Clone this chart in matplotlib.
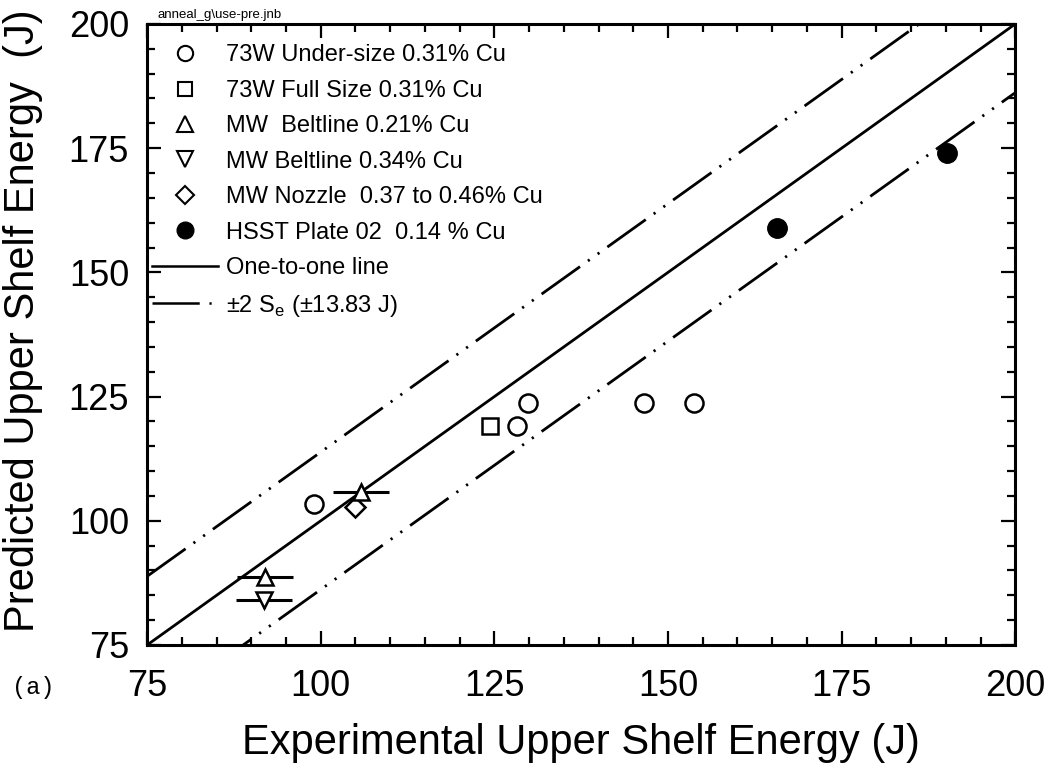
import numpy as np
import matplotlib
matplotlib.use("Agg")
import matplotlib.pyplot as plt
from matplotlib.lines import Line2D
from matplotlib.ticker import MultipleLocator

plt.rcParams['font.family'] = ['Liberation Sans', 'DejaVu Sans']
plt.rcParams['lines.scale_dashes'] = False

# data (J)
under_x = [99.0, 128.3, 129.9, 146.5, 153.8]
under_y = [103.4, 119.0, 123.7, 123.7, 123.7]
full_x = [124.3]
full_y = [119.0]
belt21_x = [92.0, 105.8]
belt21_y = [88.6, 105.7]
belt21_xerr = [4.0, 4.0]
belt21_yerr = [1.5, 1.5]
belt34_x = [91.8]
belt34_y = [84.0]
belt34_xerr = [4.0]
belt34_yerr = [1.5]
nozzle_x = [105.0]
nozzle_y = [102.8]
hsst_x = [165.7, 190.1]
hsst_y = [158.9, 174.0]
se2 = 13.83
lims = [75, 200]

labels = ["73W Under-size 0.31% Cu", "73W Full Size 0.31% Cu",
          "MW  Beltline 0.21% Cu", "MW Beltline 0.34% Cu",
          "MW Nozzle  0.37 to 0.46% Cu", "HSST Plate 02  0.14 % Cu",
          "One-to-one line", "\u00b12 S$_\\mathregular{e}$ (\u00b113.83 J)"]

dashdotdot = (0, (34, 7, 1.6, 7, 1.6, 7))

fig = plt.figure(figsize=(10.51, 7.73), dpi=100)
ax = fig.add_axes([0.140, 0.1656, 0.826, 0.8034])

xx = np.array(lims, dtype=float)
ax.plot(xx, xx, color='black', lw=2.0)
ax.plot(xx, xx + se2, color='black', lw=2.0, linestyle=dashdotdot)
ax.plot(xx, xx - se2, color='black', lw=2.0, linestyle=dashdotdot)

mew = 1.8
ax.plot(under_x, under_y, 'o', mfc='white', mec='black', mew=mew, ms=13, zorder=5)
ax.plot(full_x, full_y, 's', mfc='white', mec='black', mew=mew, ms=11, zorder=5)
ax.errorbar(belt21_x, belt21_y, xerr=belt21_xerr, yerr=belt21_yerr, fmt='^',
            mfc='white', mec='black', mew=mew, ms=12, ecolor='black',
            elinewidth=2.2, capsize=0, zorder=5)
ax.errorbar(belt34_x, belt34_y, xerr=belt34_xerr, yerr=belt34_yerr, fmt='v',
            mfc='white', mec='black', mew=mew, ms=12, ecolor='black',
            elinewidth=2.2, capsize=0, zorder=5)
ax.plot(nozzle_x, nozzle_y, 'D', mfc='white', mec='black', mew=mew, ms=10, zorder=4)
ax.plot(hsst_x, hsst_y, 'o', mfc='black', mec='black', ms=14, zorder=5)

ax.set_xlim(lims)
ax.set_ylim(lims)
ax.xaxis.set_major_locator(MultipleLocator(25))
ax.yaxis.set_major_locator(MultipleLocator(25))
ax.xaxis.set_minor_locator(MultipleLocator(5))
ax.yaxis.set_minor_locator(MultipleLocator(5))
ax.tick_params(which='both', direction='in', top=True, right=True, width=1.6)
ax.tick_params(which='major', length=10, labelsize=26)
ax.tick_params(axis='x', which='major', pad=17)
ax.tick_params(axis='y', which='major', pad=13)
ax.tick_params(which='minor', length=6)
for s in ax.spines.values():
    s.set_linewidth(2.2)

ax.set_xlabel("Experimental Upper Shelf Energy (J)", fontsize=30, labelpad=14)
ax.set_ylabel("Predicted Upper Shelf Energy  (J)", fontsize=30)
ax.yaxis.set_label_coords(-0.120, 0.522)

handles = [
    Line2D([], [], ls='', marker='o', mfc='white', mec='black', mew=1.5, ms=11),
    Line2D([], [], ls='', marker='s', mfc='white', mec='black', mew=1.5, ms=10),
    Line2D([], [], ls='', marker='^', mfc='white', mec='black', mew=1.5, ms=11),
    Line2D([], [], ls='', marker='v', mfc='white', mec='black', mew=1.5, ms=11),
    Line2D([], [], ls='', marker='D', mfc='white', mec='black', mew=1.5, ms=9),
    Line2D([], [], ls='', marker='o', mfc='black', mec='black', ms=12),
    Line2D([], [], color='black', lw=1.8),
    Line2D([], [], color='black', lw=1.8, linestyle=dashdotdot),
]
ax.legend(handles, labels, loc='upper left', bbox_to_anchor=(-0.011, 0.990),
          frameon=False, fontsize=17, labelspacing=0.57, handlelength=2.8,
          handletextpad=0.35, borderaxespad=0.2)

fig.text(0.150, 0.981, "anneal_g\\use-pre.jnb", fontsize=9.5, va='center', ha='left')
fig.text(0.011, 0.110, "(a)", fontsize=17, family='Liberation Mono', va='center')

fig.savefig("out.png", dpi=100)
